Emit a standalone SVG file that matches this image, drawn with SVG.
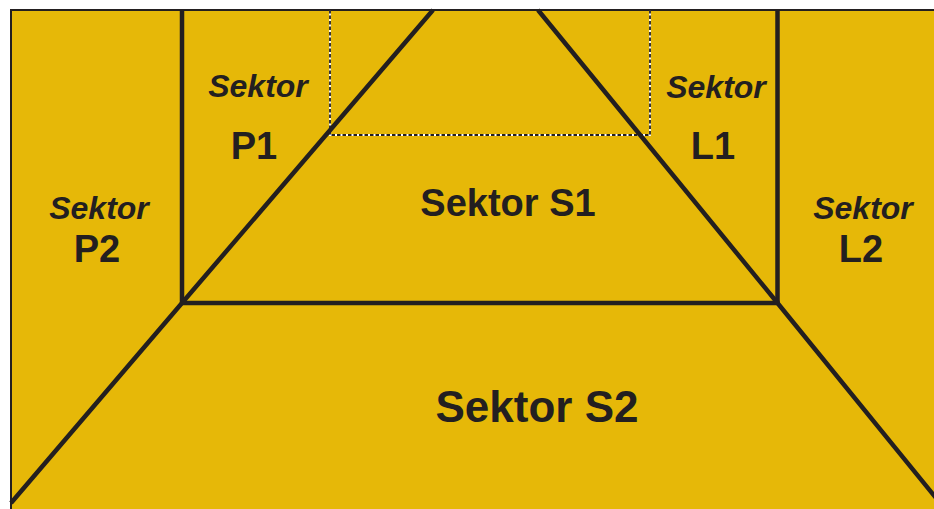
<svg xmlns="http://www.w3.org/2000/svg" width="934" height="509" viewBox="0 0 934 509">
<style>
.ln{stroke:#231F20;stroke-width:4.5;fill:none;stroke-linecap:butt}
.dw{stroke:#FFFFFF;stroke-width:1.8;fill:none}
.db{stroke:#231F20;stroke-width:1.8;fill:none;stroke-dasharray:3.5 2}
text{font-family:"Liberation Sans",Arial,Helvetica,sans-serif;font-weight:bold;fill:#231F20;text-anchor:middle}
.it{font-style:italic;font-size:32px}
.id{font-size:38px}
</style>
<rect x="0" y="0" width="934" height="509" fill="#FFFFFF"/>
<rect id="field" x="11" y="10" width="940" height="510" fill="#E6B808" stroke="#231F20" stroke-width="2"/>
<g id="connectors">
<polyline class="dw" points="330,10 330,135 650,135 650,10"/>
<polyline class="db" points="330,10 330,135 650,135 650,10"/>
<line class="ln" x1="182" y1="10" x2="182" y2="303"/>
<line class="ln" x1="777.5" y1="10" x2="777.5" y2="303"/>
<line class="ln" x1="180" y1="303" x2="779.5" y2="303"/>
<polyline class="ln" points="433,10 182,303 11,503"/>
<polyline class="ln" points="538,10 777.5,303 945,509"/>
</g>
<g id="sektor-p1"><text class="it" x="258" y="97">Sektor</text><text class="id" x="254" y="159">P1</text></g>
<g id="sektor-l1"><text class="it" x="716" y="98">Sektor</text><text class="id" x="713" y="159">L1</text></g>
<g id="sektor-p2"><text class="it" x="99" y="219">Sektor</text><text class="id" x="97" y="262">P2</text></g>
<g id="sektor-l2"><text class="it" x="863" y="219">Sektor</text><text class="id" x="861" y="262">L2</text></g>
<g id="sektor-s1"><text x="508" y="216" style="font-size:38px">Sektor S1</text></g>
<g id="sektor-s2"><text x="537" y="422" style="font-size:44px">Sektor S2</text></g>
</svg>
